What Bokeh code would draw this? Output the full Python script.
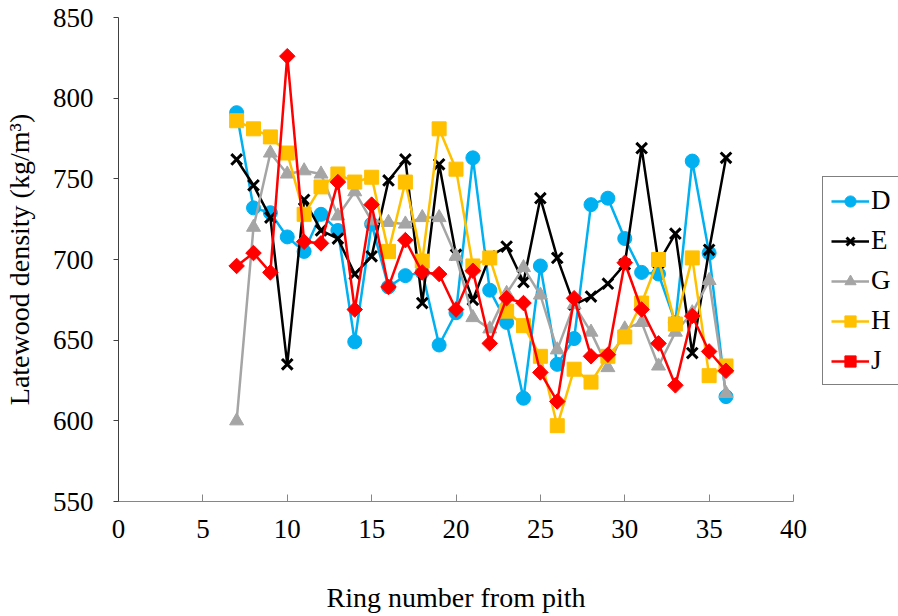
import numpy as np
from bokeh.plotting import figure
from bokeh.models import Range1d, Legend, LegendItem, FixedTicker
from bokeh.embed import file_html
from bokeh.resources import INLINE

rings = [7, 8, 9, 10, 11, 12, 13, 14, 15, 16, 17, 18, 19, 20, 21,
         22, 23, 24, 25, 26, 27, 28, 29, 30, 31, 32, 33, 34, 35, 36]

D = [791, 732, 729, 714, 705, 728, 718, 649, 722, 683, 690, 692, 647, 667, 763,
     681, 661, 614, 696, 635, 651, 734, 738, 713, 692, 691, 661, 761, 704, 615]
E = [762, 746, 726, 635, 737, 718, 713, 691, 702, 749, 762, 673, 759, 703, 675,
     702, 708, 686, 738, 701, 672, 677, 685, 697, 769, 698, 716, 642, 706, 763]
G = [600, 720, 766, 753, 755, 753, 727, 742, 724, 723, 722, 726, 726, 702, 664,
     657, 679, 695, 678, 644, 672, 655, 633, 657, 661, 634, 655, 667, 687, 617]
H = [786, 781, 776, 766, 728, 745, 753, 748, 751, 705, 748, 699, 781, 756, 696,
     701, 668, 659, 640, 597, 632, 624, 640, 652, 673, 700, 660, 701, 628, 634]
J = [696, 704, 692, 826, 711, 710, 748, 669, 734, 683, 712, 692, 691, 669, 693,
     648, 676, 673, 630, 612, 676, 640, 641, 698, 669, 648, 622, 665, 643, 631]

x_ticks = [0, 5, 10, 15, 20, 25, 30, 35, 40]
y_ticks = [550, 600, 650, 700, 750, 800, 850]

FONT = "Liberation Serif"

p = figure(frame_width=675, frame_height=484,
           min_border_left=116, min_border_right=107,
           min_border_top=17, min_border_bottom=0,
           x_range=Range1d(0, 40), y_range=Range1d(550, 850),
           output_backend="svg", toolbar_location=None)
p.outline_line_color = None
p.xgrid.grid_line_color = None
p.ygrid.grid_line_color = None
p.background_fill_color = "white"
p.border_fill_color = "white"

for ax in (p.xaxis[0], p.yaxis[0]):
    ax.major_label_text_font = FONT
    ax.major_label_text_font_size = "27px"
    ax.major_label_text_color = "black"
    ax.axis_label_text_font = FONT
    ax.axis_label_text_font_size = "28px"
    ax.axis_label_text_font_style = "normal"
    ax.axis_label_text_color = "black"
    ax.minor_tick_line_color = None

p.xaxis.ticker = FixedTicker(ticks=x_ticks)
p.yaxis.ticker = FixedTicker(ticks=y_ticks)
p.xaxis.axis_label = "Ring number from pith"
p.yaxis.axis_label = "Latewood density (kg/m³)"
p.xaxis.axis_line_color = "#868686"
p.xaxis.major_tick_line_color = "#868686"
p.xaxis.major_tick_in = 7
p.xaxis.major_tick_out = 0
p.xaxis.major_label_standoff = 18
p.xaxis.axis_label_standoff = 41
p.yaxis.axis_line_color = "#404040"
p.yaxis.major_tick_line_color = "#404040"
p.yaxis.major_tick_in = 0
p.yaxis.major_tick_out = 5
p.yaxis.major_label_standoff = 20
p.yaxis.axis_label_standoff = 15

series = [
    ("D", D, "#00B0F0", dict(marker="circle", size=14)),
    ("E", E, "black", dict(marker="x", size=15, line_width=3)),
    ("G", G, "#A5A5A5", dict(marker="triangle", size=14)),
    ("H", H, "#FFC000", dict(marker="square", size=14)),
    ("J", J, "#FF0000", dict(marker="square", size=11, angle=np.pi / 4)),
]

items = []
for name, vals, col, mk in series:
    l = p.line(rings, vals, line_color=col, line_width=2.5)
    s = p.scatter(rings, vals, fill_color=col, line_color=col, **mk)
    items.append(LegendItem(label=name, renderers=[l, s]))

legend = Legend(items=items, location=(29, 116))
legend.label_text_font = FONT
legend.label_text_font_size = "27px"
legend.label_text_color = "black"
legend.glyph_width = 38
legend.glyph_height = 28
legend.label_height = 28
legend.label_standoff = 2
legend.spacing = 9
legend.padding = 8
legend.margin = 0
legend.border_line_color = "black"
legend.border_line_width = 1
legend.background_fill_color = "white"
legend.background_fill_alpha = 1
p.add_layout(legend, "right")

open("out.html", "w").write(file_html(p, INLINE))
